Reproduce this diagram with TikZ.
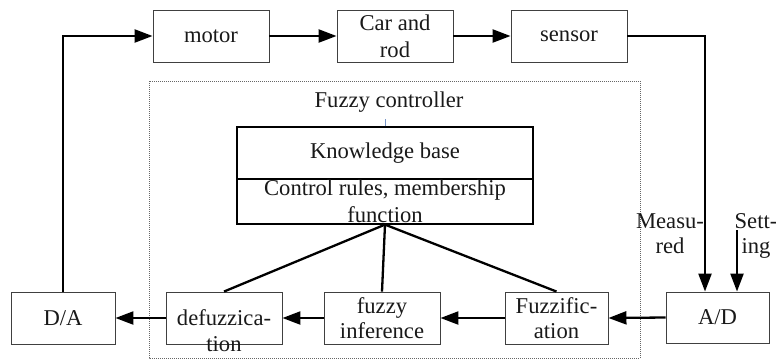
\documentclass[tikz,border=0pt]{standalone}
\usepackage{fontspec}
\setmainfont{Liberation Serif}
\usetikzlibrary{arrows.meta,calc}
\begin{document}
\begin{tikzpicture}[x=1pt,y=-1pt,
  txt/.style={font=\fontsize{22.6}{26}\selectfont,text=black!90},
  blk/.style={txt,draw=black!75,line width=0.9pt,inner sep=0pt,minimum height=52pt,align=center},
  arr/.style={line width=2.3pt,-{Triangle[length=18pt,width=13pt]}},
  link/.style={line width=2.3pt},
  lbl/.style={txt,inner sep=0pt,align=center}]
\useasboundingbox (0,0) rectangle (776,360);

% controller frame
\draw[black!60,line width=0.7pt,dash pattern=on 1pt off 1pt] (149,81) rectangle (640,358);
\node[lbl] (fctitle) at (389,102) {Fuzzy controller};

% plant chain
\node[blk,minimum width=116pt] (motor) at (211,36) {motor};
\node[blk,minimum width=116pt,font=\fontsize{22.6}{27}\selectfont] (car) at (395,36) {Car and\\rod};
\node[blk,minimum width=116pt] (sensor) at (569,36) {sensor};

% converters
\node[blk,minimum width=104pt] (da) at (63,318) {D/A};
\node[blk,minimum width=103pt,minimum height=51pt] (ad) at (717.5,317.5) {A/D};

% fuzzy stages
\node[blk,minimum width=116pt] (defuz) at (224,318) {};
\node[lbl,anchor=north] (defuztxt) at (224,309) {defuzzica-\\tion};
\node[blk,minimum width=116pt,font=\fontsize{22.6}{25}\selectfont] (infer) at (382,318) {fuzzy\\inference};
\node[blk,minimum width=103pt,font=\fontsize{22.6}{25}\selectfont] (fuzzif) at (556.5,318) {Fuzzific-\\ation};

% knowledge base
\node[draw=black,line width=1.2pt,minimum width=296pt,minimum height=97pt,inner sep=0pt] (kb) at (385,175.5) {};
\draw[black,line width=1.2pt] (kb.west |- 0,179) -- (kb.east |- 0,179);
\node[lbl] (kbtitle) at (385,153) {Knowledge base};
\node[lbl,anchor=north,font=\fontsize{22.6}{27}\selectfont] (kbrules) at (385,180) {Control rules, membership\\function};
\draw[color={rgb,255:red,120;green,150;blue,200},line width=0.8pt] (kb.north) -- ++(0,-7);

% knowledge base feeds the three stages
\draw[link] (kb.south) -- (defuz.north);
\draw[link] (kb.south) -- (infer.north);
\draw[link] (kb.south) -- (fuzzif.north);

% forward path
\draw[arr] (da.north) |- (motor.west);
\draw[arr] (motor.east) -- (car.west);
\draw[arr] (car.east) -- (sensor.west);
\coordinate (meas) at ($(ad.north)+(-12.5,0)$);
\draw[arr] (sensor.east) -| (meas);
\coordinate (setp) at (737,230);
\draw[arr] (setp) -- (setp |- ad.north);
\node[lbl,anchor=north,font=\fontsize{22.6}{25}\selectfont] (measlbl) at (670,213) {Measu-\\red};
\node[lbl,anchor=north,font=\fontsize{22.6}{25}\selectfont] (setlbl) at (756,213) {Sett-\\ing};

% signal path through the controller
\draw[arr] (ad.west) -- (fuzzif.east);
\draw[arr] (fuzzif.west) -- (infer.east);
\draw[arr] (infer.west) -- (defuz.east);
\draw[arr] (defuz.west) -- (da.east);
\end{tikzpicture}
\end{document}
